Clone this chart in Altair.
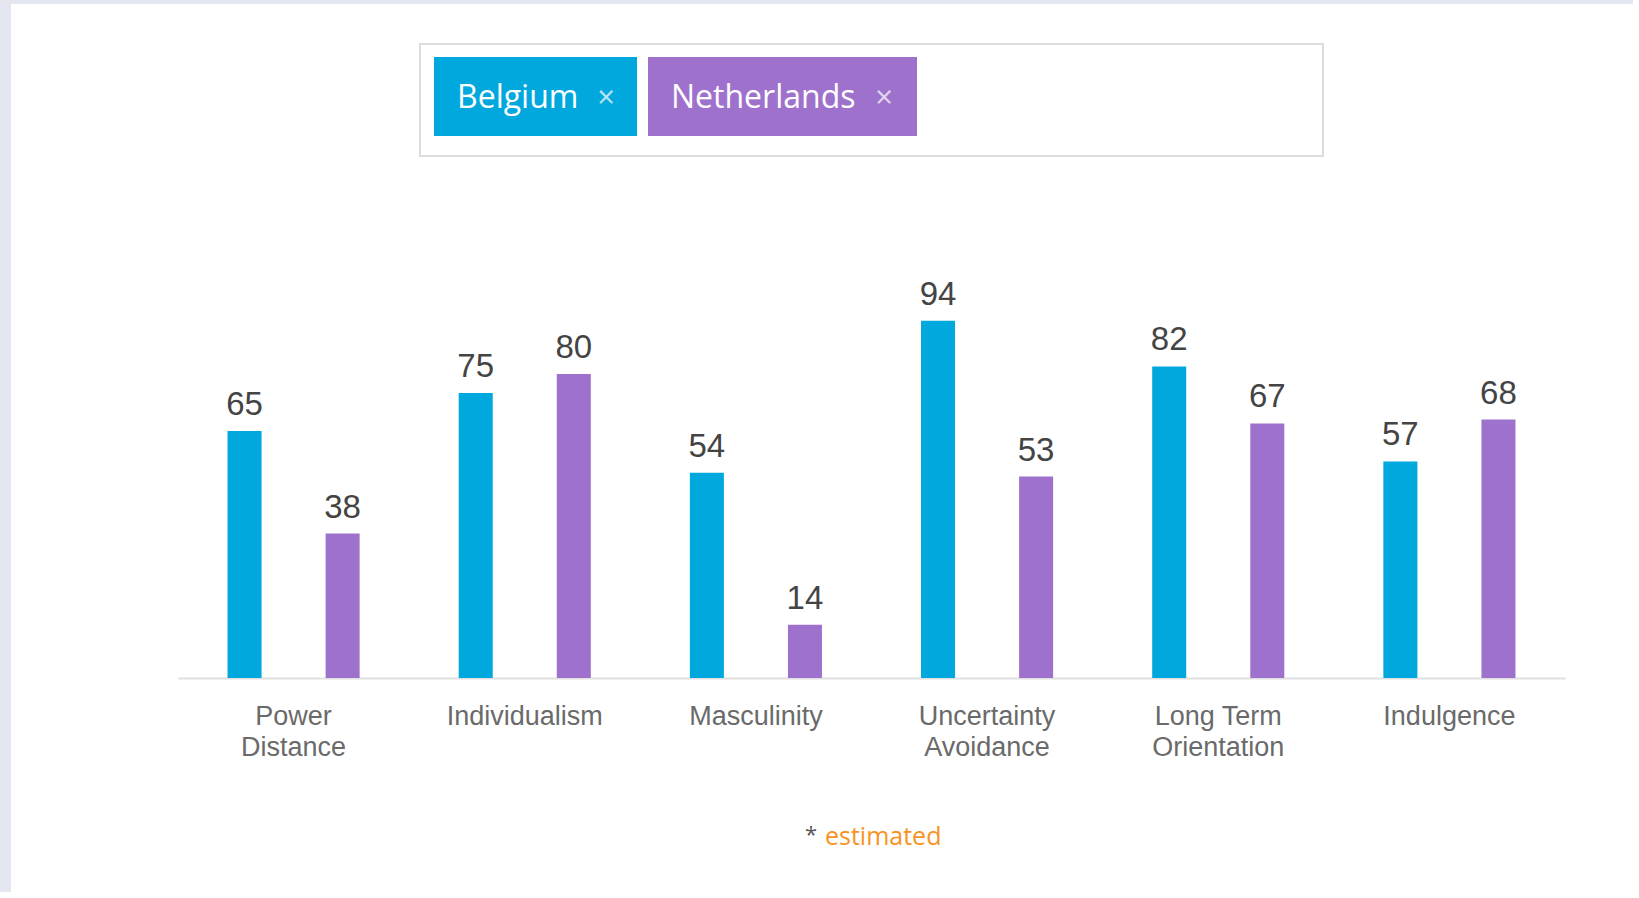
import altair as alt
import pandas as pd

# ---- data -------------------------------------------------------------
categories = ["Power Distance", "Individualism", "Masculinity",
              "Uncertainty Avoidance", "Long Term Orientation", "Indulgence"]
label_lines = {
    "Power Distance": ["Power", "Distance"],
    "Individualism": ["Individualism"],
    "Masculinity": ["Masculinity"],
    "Uncertainty Avoidance": ["Uncertainty", "Avoidance"],
    "Long Term Orientation": ["Long Term", "Orientation"],
    "Indulgence": ["Indulgence"],
}
countries = ["Belgium", "Netherlands"]
colors = ["#00A8DE", "#9E72CC"]
belgium = [65, 75, 54, 94, 82, 57]
netherlands = [38, 80, 14, 53, 67, 68]

rows = []
for i, c in enumerate(categories):
    rows.append({"dimension": c, "country": countries[0], "score": belgium[i]})
    rows.append({"dimension": c, "country": countries[1], "score": netherlands[i]})
df = pd.DataFrame(rows)

# ---- label expression for two-line axis labels -----------------------
parts = []
for k, v in label_lines.items():
    arr = "[" + ",".join("'" + s + "'" for s in v) + "]"
    parts.append(f"datum.label == '{k}' ? {arr} : ")
label_expr = "".join(parts) + "datum.label"

W, H = 1387, 380
PL, PT = 178, 298

x_enc = alt.X("dimension:N", sort=categories,
              scale=alt.Scale(paddingInner=0, paddingOuter=0),
              axis=alt.Axis(title=None, labelExpr=label_expr, labelAngle=0,
                            labelFont="Liberation Sans", labelFontSize=27,
                            labelColor="#6a6a6a", labelLineHeight=31,
                            labelPadding=25, ticks=False, tickSize=0,
                            domainColor="#e0e0e0", domainWidth=2,
                            labelBaseline="top", grid=False))
xoff = alt.XOffset("country:N", sort=countries,
                   scale=alt.Scale(paddingInner=0.653, paddingOuter=0.505))
y_enc = alt.Y("score:Q", scale=alt.Scale(domain=[0, 100]), axis=None)
color_enc = alt.Color("country:N", sort=countries,
                      scale=alt.Scale(domain=countries, range=colors), legend=None)

base = alt.Chart(df)
bars = base.mark_bar().encode(x=x_enc, xOffset=xoff, y=y_enc, color=color_enc)
nums = base.mark_text(dy=-16, baseline="alphabetic", fontSize=33,
                      font="Liberation Sans", color="#444444").encode(
    x=x_enc, xOffset=xoff, y=y_enc, text="score:Q")

one = pd.DataFrame({"k": [0]})
dec = alt.Chart(one)

# page background strips
left_strip = dec.mark_rect(color="#E4E7F0").encode(
    x=alt.value(-PL), x2=alt.value(-PL + 11), y=alt.value(-PT), y2=alt.value(H + 220))
top_strip = dec.mark_rect(color="#E4E7F0").encode(
    x=alt.value(-PL), x2=alt.value(W + 80), y=alt.value(-PT), y2=alt.value(-PT + 4))

# tag box
box = dec.mark_rect(fill="white", stroke="#dcdcdc", strokeWidth=2).encode(
    x=alt.value(420 - PL), x2=alt.value(1323 - PL),
    y=alt.value(44 - PT), y2=alt.value(156 - PT))
tag_pos = [(434, 637, 457, 606), (648, 917, 671, 884)]
tags = []
for (x0, x1, tx, xx), name, col in zip(tag_pos, countries, colors):
    tags.append(dec.mark_rect(color=col).encode(
        x=alt.value(x0 - PL), x2=alt.value(x1 - PL),
        y=alt.value(57 - PT), y2=alt.value(136 - PT)))
    tags.append(dec.mark_text(align="left", baseline="alphabetic", fontSize=32,
                              font="Open Sans", color="#ffffff").encode(
        x=alt.value(tx - PL), y=alt.value(108 - PT), text=alt.value(name)))
    tags.append(dec.mark_text(align="center", baseline="alphabetic", fontSize=31,
                              font="Open Sans", color="#ffffff", opacity=0.7).encode(
        x=alt.value(xx - PL), y=alt.value(108 - PT), text=alt.value("×")))

star = dec.mark_text(align="left", baseline="alphabetic", fontSize=22,
                     font="Open Sans", color="#555555").encode(
    x=alt.value(805 - PL), y=alt.value(842 - PT), text=alt.value("*"))
est = dec.mark_text(align="left", baseline="alphabetic", fontSize=25,
                    font="Open Sans", color="#F7931E").encode(
    x=alt.value(825 - PL), y=alt.value(845 - PT), text=alt.value("estimated"))

chart = alt.layer(left_strip, top_strip, box, *tags, bars, nums, star, est).properties(
    width=W, height=H,
    autosize=alt.AutoSizeParams(type="none"),
    padding={"left": PL, "top": PT, "right": 68, "bottom": 214},
    background="white",
).configure_view(stroke=None)

chart.save("out.html", embed_options={"renderer": "svg", "actions": False})
